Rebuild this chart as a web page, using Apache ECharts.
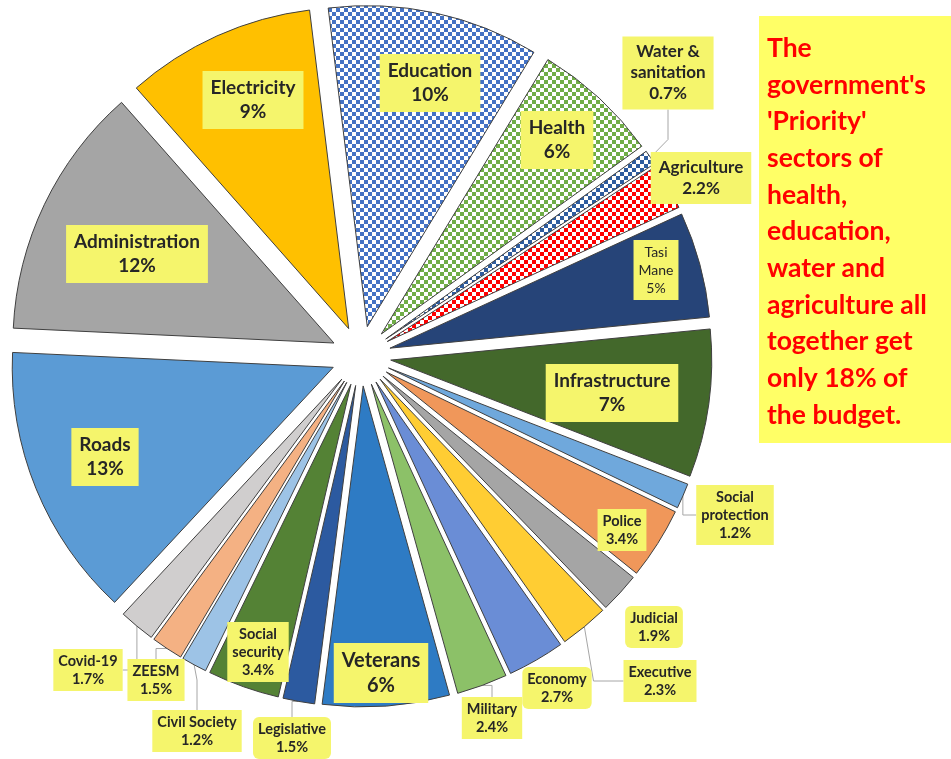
<!DOCTYPE html>
<html>
<head>
<meta charset="utf-8">
<title>Budget by sector</title>
<script src="https://cdn.jsdelivr.net/npm/echarts@6/dist/echarts.min.js"></script>
<style>
html,body{margin:0;padding:0;background:#fff;}
#chart{width:951px;height:759px;}
</style>
</head>
<body>
<div id="chart"></div>
<script>
// 数据 (clockwise from the top)
var sectors = ['Education', 'Health', 'Water &\nsanitation', 'Agriculture', 'Tasi\nMane', 'Infrastructure',
    'Social\nprotection', 'Police', 'Judicial', 'Executive', 'Economy', 'Military', 'Veterans', 'Legislative',
    'Social\nsecurity', 'Civil Society', 'ZEESM', 'Covid-19', 'Roads', 'Administration', 'Electricity'];
var shares = [10, 6, 0.7, 2.2, 5, 7, 1.2, 3.4, 1.9, 2.3, 2.7, 2.4, 6, 1.5, 3.4, 1.2, 1.5, 1.7, 13, 12, 9];
var noteLines = ['The', "government's", "'Priority'", 'sectors of', 'health,', 'education,', 'water and',
    'agriculture all', 'together get', 'only 18% of', 'the budget.'];

// 样式
var fills = ['#4472C4', '#70AD47', '#2E5C9E', '#FF0000', '#264478', '#43682B', '#6FA8DC', '#F0975A', '#A5A5A5',
    '#FFCD33', '#6A8DD6', '#8CC168', '#2E7BC4', '#2C5AA0', '#548235', '#9DC3E6', '#F4B183', '#D0CECE',
    '#5B9BD5', '#A5A5A5', '#FFC000'];
var checker = [1, 1, 1, 1, 0, 0, 0, 0, 0, 0, 0, 0, 0, 0, 0, 0, 0, 0, 0, 0, 0];
var leader = [0, 0, 1, 0, 0, 0, 1, 0, 0, 1, 0, 1, 0, 1, 0, 1, 1, 1, 0, 0, 0];
var rounded = [0, 0, 0, 0, 0, 0, 0, 0, 1, 0, 1, 0, 0, 1, 0, 0, 0, 0, 0, 0, 0];
var fontSizes = [19, 19, 17, 17, 14, 19, 14.5, 14.5, 14.5, 14.5, 14.5, 14.5, 20, 14.5, 14.5, 14.5, 14.5, 14.5, 19, 19, 19];
// label centres
var labelX = [430, 557, 668, 701, 656, 612, 735, 622, 654, 660, 557, 492, 381, 292, 258, 197, 156, 88, 105, 137, 253];
var labelY = [83, 140, 73, 178, 270, 393, 515, 530, 627, 681, 688, 718, 673, 738, 652, 731, 680, 670, 457, 254, 100];

var pieX = 361, pieY = 356, pieR = 321;
var firstAngle = -7;   // 第一块起始角度(顺时针, 从12点方向)
var explode = 30;      // 分离距离

// 棋盘格填充
function makeChecker(color) {
    var c = document.createElement('canvas');
    c.width = 8;
    c.height = 8;
    var ctx = c.getContext('2d');
    ctx.fillStyle = '#ffffff';
    ctx.fillRect(0, 0, 8, 8);
    ctx.fillStyle = color;
    ctx.fillRect(0, 0, 4, 4);
    ctx.fillRect(4, 4, 4, 4);
    return { image: c, repeat: 'repeat' };
}

var total = 0;
for (var t = 0; t < shares.length; t++) total += shares[t];

// 每一块单独一个系列, 圆心沿角平分线外移
var series = [];
var cum = 0;
for (var k = 0; k < sectors.length; k++) {
    var mid = (firstAngle + 360 * (cum + shares[k] / 2) / total) * Math.PI / 180;
    cum += shares[k];
    var fs = fontSizes[k];
    var big = fs > 16;
    var data = [];
    for (var i = 0; i < sectors.length; i++) {
        if (i == k) {
            data.push({
                name: sectors[i],
                value: shares[i],
                itemStyle: { color: checker[i] ? makeChecker(fills[i]) : fills[i], borderColor: '#404040', borderWidth: 1 },
                label: {
                    show: true,
                    position: leader[i] ? 'outside' : 'inside',
                    fontSize: fs,
                    lineHeight: Math.round(fs * 1.25),
                    fontWeight: i == 4 ? 'normal' : 'bold',
                    padding: big ? [5, 8] : [3, 5],
                    borderRadius: rounded[i] ? 6 : 0
                },
                labelLine: { show: leader[i] == 1 }
            });
        } else {
            data.push({
                name: sectors[i],
                value: shares[i],
                itemStyle: { color: 'rgba(0,0,0,0)', borderWidth: 0 },
                label: { show: false },
                labelLine: { show: false }
            });
        }
    }
    series.push({
        type: 'pie',
        center: [pieX + explode * Math.sin(mid), pieY - explode * Math.cos(mid)],
        radius: [0, pieR],
        startAngle: 90 - firstAngle,
        clockwise: true,
        silent: true,
        avoidLabelOverlap: false,
        emphasis: { disabled: true },
        label: {
            color: '#262626',
            fontFamily: 'Lato',
            backgroundColor: '#F5F56C',
            align: 'center',
            formatter: function (p) {
                return p.name + '\n' + p.value + '%';
            }
        },
        labelLine: {
            lineStyle: { color: '#A6A6A6', width: 1 }
        },
        labelLayout: function (p) {
            return {
                x: labelX[p.dataIndex],
                y: labelY[p.dataIndex],
                align: 'center',
                verticalAlign: 'middle'
            };
        },
        data: data
    });
}

var myChart = echarts.init(document.getElementById('chart'));
var option = {
    animation: false,
    backgroundColor: '#ffffff',
    series: series,
    graphic: [{
        type: 'rect',
        shape: { x: 759, y: 16, width: 192, height: 427 },
        style: { fill: '#FFFF66' }
    }, {
        type: 'text',
        x: 767,
        y: 30,
        style: {
            text: noteLines.join('\n'),
            fill: '#FF0000',
            fontFamily: 'Lato',
            fontWeight: 'bold',
            fontSize: 26.5,
            lineHeight: 36.7,
            verticalAlign: 'top'
        }
    }]
};
myChart.setOption(option);
</script>
</body>
</html>
